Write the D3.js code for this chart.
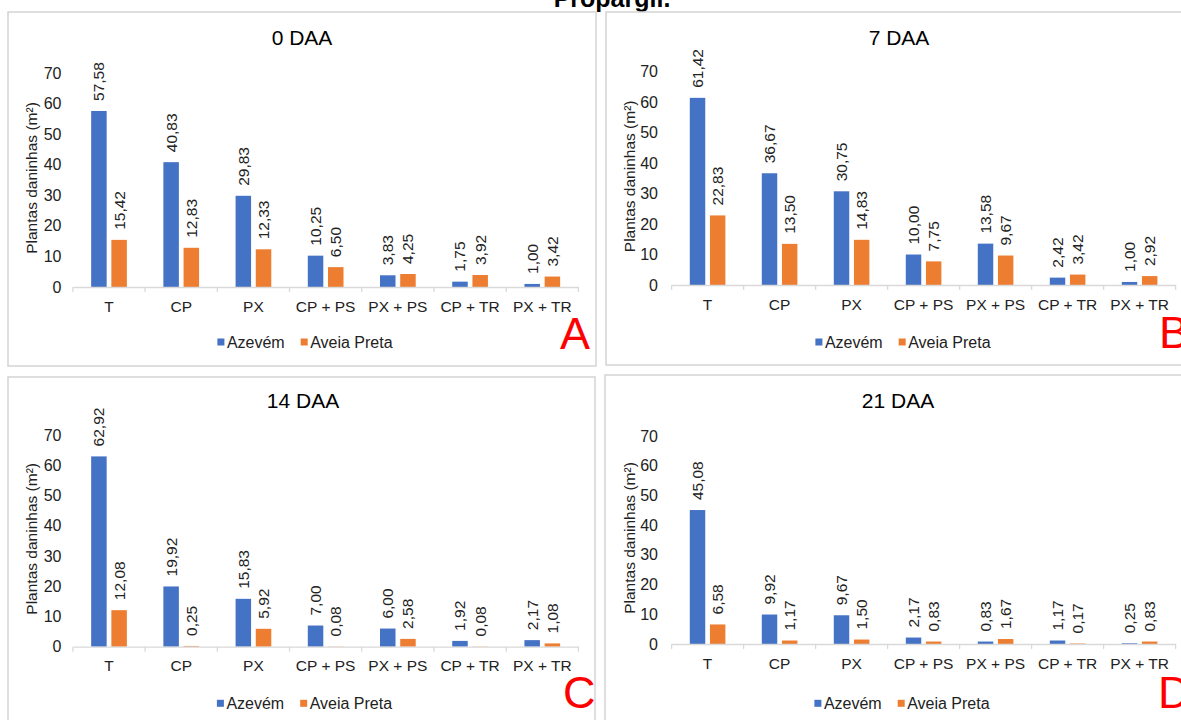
<!DOCTYPE html>
<html>
<head>
<meta charset="utf-8">
<script src="https://cdn.jsdelivr.net/npm/d3@7"></script>
<style>
  html, body { margin: 0; padding: 0; background: #ffffff; }
  svg { display: block; }
  text { font-family: "Liberation Sans", Arial, sans-serif; }
</style>
</head>
<body>
<svg id="chart" width="1181" height="720"></svg>
<script>
// ---------- data ----------
const categories = ["T", "CP", "PX", "CP + PS", "PX + PS", "CP + TR", "PX + TR"];
const seriesNames = ["Azevém", "Aveia Preta"];
const panelTitles = ["0 DAA", "7 DAA", "14 DAA", "21 DAA"];
const panelLetters = ["A", "B", "C", "D"];
const yTickValues = [0, 10, 20, 30, 40, 50, 60, 70];
const figureTitle = "Propargil.";
const yAxisTitle = "Plantas daninhas (m²)";

const azevem0 = [57.58, 40.83, 29.83, 10.25, 3.83, 1.75, 1.00];
const aveia0  = [15.42, 12.83, 12.33, 6.50, 4.25, 3.92, 3.42];
const azevem7 = [61.42, 36.67, 30.75, 10.00, 13.58, 2.42, 1.00];
const aveia7  = [22.83, 13.50, 14.83, 7.75, 9.67, 3.42, 2.92];
const azevem14 = [62.92, 19.92, 15.83, 7.00, 6.00, 1.92, 2.17];
const aveia14  = [12.08, 0.25, 5.92, 0.08, 2.58, 0.08, 1.08];
const azevem21 = [45.08, 9.92, 9.67, 2.17, 0.83, 1.17, 0.25];
const aveia21  = [6.58, 1.17, 1.50, 0.83, 1.67, 0.17, 0.83];

const panelData = [
  [azevem0, aveia0],
  [azevem7, aveia7],
  [azevem14, aveia14],
  [azevem21, aveia21]
];

// ---------- layout (positions / styles) ----------
const colors = ["#4472C4", "#ED7D31"];
const textColor = "#222222";
const layout = [
  { box: [8, 12, 588, 354],  px: [72.9, 578.4],  py: [287, 73],     titleX: 302, titleY: 45,  legendY: 342,   ylabX: 37,  tickX: 61.5,  letter: [560, 349] },
  { box: [606, 12, 588, 353], px: [671.6, 1175.6], py: [285, 71.7],  titleX: 899, titleY: 45,  legendY: 342,   ylabX: 635, tickX: 658,   letter: [1159, 348] },
  { box: [8, 377, 587, 360], px: [72.9, 578.4],  py: [646.7, 435],  titleX: 303, titleY: 408, legendY: 703.3, ylabX: 37,  tickX: 61.5,  letter: [563, 708] },
  { box: [605, 375, 588, 362], px: [671.6, 1175.6], py: [644, 436],  titleX: 898, titleY: 408, legendY: 703.3, ylabX: 635, tickX: 658,   letter: [1158, 708] }
];

const svg = d3.select("#chart");
const fmt = v => d3.format(".2f")(v).replace(".", ",");

// figure title (cropped at top, as in the reference)
svg.append("text")
  .attr("x", 612).attr("y", 7)
  .attr("text-anchor", "middle")
  .attr("font-size", 25).attr("font-weight", "bold")
  .attr("fill", "#000")
  .text(figureTitle);

layout.forEach((L, pi) => {
  const g = svg.append("g");
  // panel border
  g.append("rect")
    .attr("x", L.box[0]).attr("y", L.box[1])
    .attr("width", L.box[2]).attr("height", L.box[3])
    .attr("fill", "#fff").attr("stroke", "#d4d4d4").attr("stroke-width", 1.5);

  const x0 = d3.scaleBand().domain(categories).range(L.px).paddingInner(0).paddingOuter(0);
  const x1 = d3.scaleBand().domain(seriesNames).range([0, x0.bandwidth()])
    .paddingInner(0.233).paddingOuter(0.904);
  const y = d3.scaleLinear().domain([0, 70]).range(L.py);

  // y tick labels
  const yAxis = d3.axisLeft(y).tickValues(yTickValues).tickSize(0).tickPadding(0);
  const ya = g.append("g").attr("transform", `translate(${L.tickX},0)`).call(yAxis);
  ya.select(".domain").remove();
  ya.selectAll("text").attr("font-size", 16).attr("fill", textColor)
    .attr("font-family", "Liberation Sans, Arial, sans-serif");

  // bars
  const rows = categories.map((c, i) => ({ c, vals: seriesNames.map((s, si) => ({ s, si, v: panelData[pi][si][i] })) }));
  const grp = g.selectAll(".cat").data(rows).join("g")
    .attr("transform", d => `translate(${x0(d.c)},0)`);
  grp.selectAll("rect").data(d => d.vals).join("rect")
    .attr("x", d => x1(d.s))
    .attr("width", x1.bandwidth())
    .attr("y", d => y(d.v))
    .attr("height", d => y(0) - y(d.v))
    .attr("fill", d => colors[d.si]);
  grp.selectAll("text").data(d => d.vals).join("text")
    .attr("transform", d => `translate(${x1(d.s) + x1.bandwidth() / 2},${y(d.v) - 10}) rotate(-90)`)
    .attr("dy", "0.35em")
    .attr("text-anchor", "start")
    .attr("font-size", 15.5)
    .attr("fill", textColor)
    .text(d => fmt(d.v));

  // x axis
  const xAxis = d3.axisBottom(x0).tickSize(0).tickPadding(0);
  const xa = g.append("g").attr("transform", `translate(0,${y(0)})`).call(xAxis);
  xa.select(".domain").attr("stroke", "#d9d9d9").attr("stroke-width", 1.3);
  xa.selectAll("text").attr("font-size", 15.5).attr("fill", textColor)
    .attr("dy", 0).attr("y", 24.5)
    .attr("font-family", "Liberation Sans, Arial, sans-serif");
  // boundary tick marks
  const edges = categories.map(c => x0(c)).concat([x0(categories[categories.length - 1]) + x0.bandwidth()]);
  xa.selectAll(".edge").data(edges).join("line")
    .attr("x1", d => d).attr("x2", d => d)
    .attr("y1", 0).attr("y2", 5)
    .attr("stroke", "#d9d9d9").attr("stroke-width", 1.3);

  // panel title
  g.append("text")
    .attr("x", L.titleX).attr("y", L.titleY)
    .attr("text-anchor", "middle")
    .attr("font-size", 21).attr("fill", "#000")
    .text(panelTitles[pi]);

  // y axis title
  const ymid = (L.py[0] + L.py[1]) / 2 - 2;
  g.append("text")
    .attr("transform", `translate(${L.ylabX},${ymid}) rotate(-90)`)
    .attr("text-anchor", "middle")
    .attr("font-size", 15.5).attr("fill", textColor)
    .text(yAxisTitle);

  // legend
  const lg = g.append("g");
  let cx = 0;
  seriesNames.forEach((s, si) => {
    lg.append("rect").attr("x", cx).attr("y", -3.5).attr("width", 7).attr("height", 7).attr("fill", colors[si]);
    const t = lg.append("text").attr("x", cx + 9.5).attr("y", 5.7)
      .attr("font-size", 16).attr("fill", textColor).text(s);
    cx += 9.5 + t.node().getComputedTextLength() + (si === 0 ? 16 : 0);
  });
  const lcx = L.box[0] + L.box[2] / 2 + 3;
  lg.attr("transform", `translate(${lcx - cx / 2},${L.legendY})`);

  // red panel letter
  g.append("text")
    .attr("x", L.letter[0]).attr("y", L.letter[1])
    .attr("font-size", 45).attr("fill", "#ff0000")
    .text(panelLetters[pi]);
});
</script>
</body>
</html>
